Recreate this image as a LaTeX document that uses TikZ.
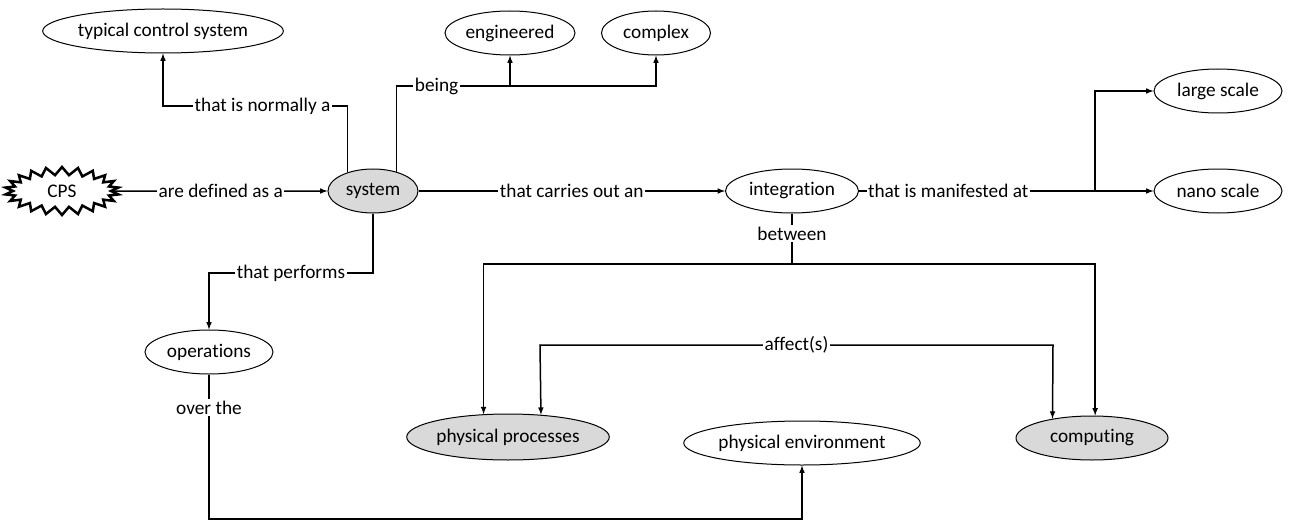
\documentclass[tikz,border=0pt]{standalone}
\usepackage{fontspec}
\setmainfont{Carlito}[Ligatures=NoCommon]
\usetikzlibrary{shapes.geometric, shapes.symbols, arrows}

\begin{document}
\begin{tikzpicture}[x=1pt, y=-1pt, font=\fontsize{19.3}{23}\selectfont]
    \tikzstyle{concept} = [ellipse, minimum height=44pt, inner sep=0pt, text centered, draw=black, line width=1pt]
    \tikzstyle{keyconcept} = [concept, fill=black!15]
    \tikzstyle{linkword} = [fill=white, inner sep=1.5pt]
    \tikzstyle{arrow} = [line width=1.5pt,->,>=latex]

    \useasboundingbox (0,0) rectangle (1293,524);

    \node (cps) [starburst, draw=black, line width=2.5pt, minimum width=114pt, minimum height=48pt, starburst points=22, starburst point height=8pt, random starburst=0] at (62,191) {CPS};
    \node (system) [keyconcept, minimum width=90pt] at (373,191) {system};
    \node (typical) [concept, minimum width=220pt] at (163,31) {typical control system};
    \node (engineered) [concept, minimum width=130pt] at (510,33) {engineered};
    \node (complex) [concept, minimum width=109pt] at (656,33) {complex};
    \node (integration) [concept, minimum width=133pt] at (792,191) {integration};
    \node (large) [concept, minimum width=128pt] at (1218,91) {large scale};
    \node (nano) [concept, minimum width=128pt] at (1218,191) {nano scale};
    \node (operations) [concept, minimum width=128pt] at (209,352) {operations};
    \node (processes) [keyconcept, minimum width=180pt, minimum height=46pt] at (508,437) {physical processes};
    \node (environment) [concept, minimum width=215pt] at (802,443) {physical environment};
    \node (computing) [keyconcept, minimum width=152pt] at (1092,438) {computing};

    \coordinate (normal) at (163,106);
    \coordinate (being) at (656,86);
    \coordinate (perform) at (209,273);
    \coordinate (scalefork) at (1095,191);
    \coordinate (between) at (792,264);
    \coordinate (affectL) at (540,345);
    \coordinate (affectR) at (1053,345);
    \coordinate (overbend) at (209,519);

    \draw [arrow] (cps) -- node [linkword] {are defined as a} (system);
    \draw [arrow] (system.144) |- node [linkword, pos=0.73] {that is normally a} (normal) -- (typical);
    \draw [arrow] (system.39) |- node [linkword, pos=0.577] {being} (being) -- (complex);
    \draw [arrow] (engineered.south |- being) -- (engineered);
    \draw [arrow] (system) -- node [linkword] {that carries out an} (integration);
    \draw [arrow] (integration) -- node [linkword, pos=0.378] {that is manifested at} (scalefork) |- (large);
    \draw [arrow] (scalefork) -- (nano);
    \draw [arrow] (system) |- node [linkword, pos=0.75] {that performs} (perform) -- (operations);
    \draw [line width=1.5pt] (integration) -- node [linkword, pos=0.4] {between} (between);
    \draw [arrow] (between) -| (processes.137);
    \draw [arrow] (between) -| (computing.82);
    \draw [arrow, <->] (processes.34) -- (affectL) -- node [linkword] {affect(s)} (affectR) -- (computing.154);
    \draw [arrow] (operations) -- node [linkword, pos=0.23] {over the} (overbend) -| (environment);
\end{tikzpicture}
\end{document}
